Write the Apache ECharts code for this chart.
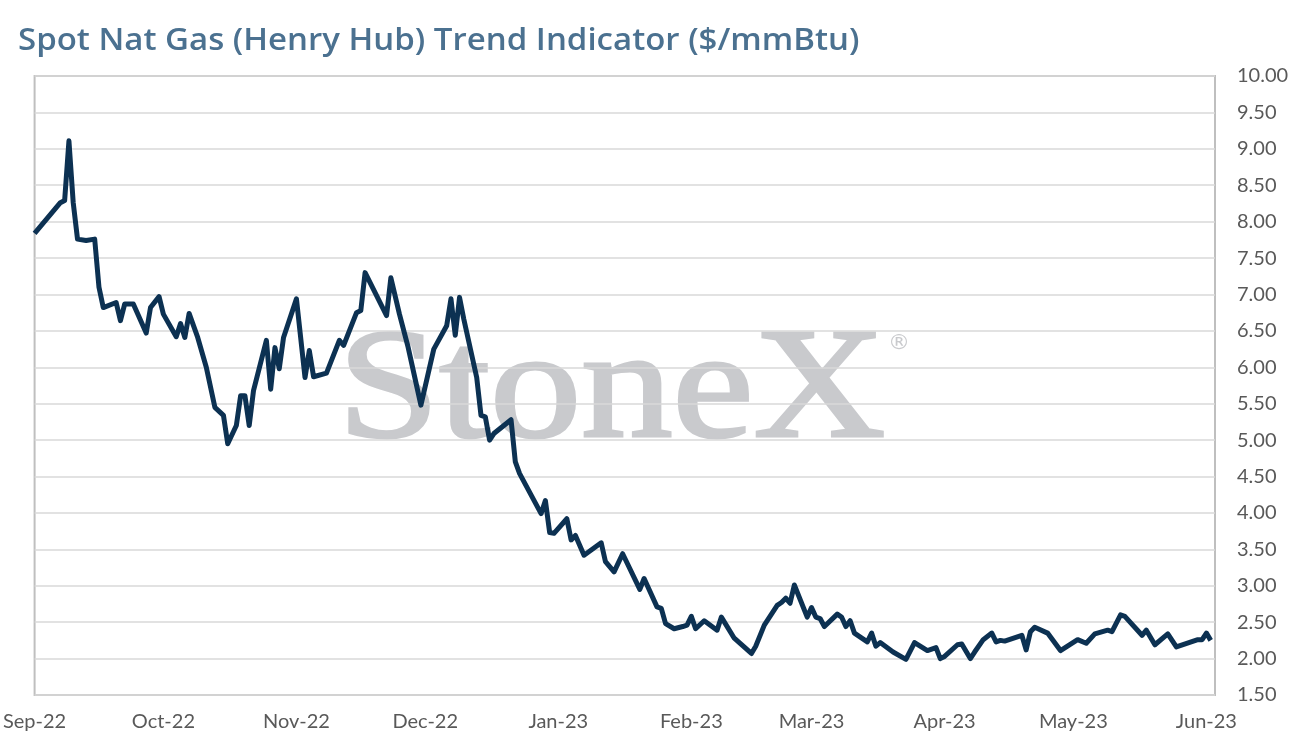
<!DOCTYPE html>
<html>
<head>
<meta charset="utf-8">
<script src="https://cdn.jsdelivr.net/npm/echarts@6/dist/echarts.min.js"></script>
<style>
html,body{margin:0;padding:0;background:#fff;}
#chart{width:1292px;height:754px;}
</style>
</head>
<body>
<div id="chart"></div>
<script>
const titleText = 'Spot Nat Gas (Henry Hub) Trend Indicator ($/mmBtu)';
const monthNames = ['Jan','Feb','Mar','Apr','May','Jun','Jul','Aug','Sep','Oct','Nov','Dec'];
const monthTicks = ['2022-09-01','2022-10-01','2022-11-01','2022-12-01','2023-01-01','2023-02-01','2023-03-01','2023-04-01','2023-05-01','2023-06-01'];
const dates = [
'2022-09-01','2022-09-07','2022-09-08','2022-09-09','2022-09-10','2022-09-11','2022-09-13','2022-09-15','2022-09-16','2022-09-17','2022-09-20','2022-09-21','2022-09-22','2022-09-24','2022-09-27','2022-09-28','2022-09-30',
'2022-10-01','2022-10-04','2022-10-05','2022-10-06','2022-10-07','2022-10-09','2022-10-11','2022-10-13','2022-10-15','2022-10-16','2022-10-18','2022-10-19','2022-10-20','2022-10-21','2022-10-22','2022-10-25','2022-10-26','2022-10-27','2022-10-28','2022-10-29',
'2022-11-01','2022-11-03','2022-11-04','2022-11-05','2022-11-08','2022-11-11','2022-11-12','2022-11-15','2022-11-16','2022-11-17','2022-11-22','2022-11-23','2022-11-25','2022-11-27','2022-11-30',
'2022-12-03','2022-12-06','2022-12-07','2022-12-08','2022-12-09','2022-12-10','2022-12-13','2022-12-14','2022-12-15','2022-12-16','2022-12-17','2022-12-21','2022-12-22','2022-12-23','2022-12-28','2022-12-29','2022-12-30','2022-12-31',
'2023-01-03','2023-01-04','2023-01-05','2023-01-07','2023-01-11','2023-01-12','2023-01-14','2023-01-16','2023-01-20','2023-01-21','2023-01-24','2023-01-25','2023-01-26','2023-01-28','2023-01-30','2023-01-31',
'2023-02-01','2023-02-02','2023-02-04','2023-02-07','2023-02-08','2023-02-11','2023-02-15','2023-02-16','2023-02-18','2023-02-21','2023-02-22','2023-02-23','2023-02-24','2023-02-25','2023-02-28',
'2023-03-01','2023-03-02','2023-03-03','2023-03-04','2023-03-07','2023-03-08','2023-03-09','2023-03-10','2023-03-11','2023-03-14','2023-03-15','2023-03-16','2023-03-17','2023-03-20','2023-03-23','2023-03-25','2023-03-28','2023-03-30','2023-03-31',
'2023-04-01','2023-04-04','2023-04-05','2023-04-07','2023-04-08','2023-04-10','2023-04-12','2023-04-13','2023-04-14','2023-04-15','2023-04-19','2023-04-20','2023-04-21','2023-04-22','2023-04-25','2023-04-28',
'2023-05-02','2023-05-04','2023-05-06','2023-05-09','2023-05-10','2023-05-12','2023-05-13','2023-05-17','2023-05-18','2023-05-20','2023-05-23','2023-05-25','2023-05-30','2023-05-31',
'2023-06-01','2023-06-02'
];
const prices = [
7.84,8.26,8.29,9.11,8.26,7.76,7.74,7.76,7.10,6.82,6.89,6.64,6.87,6.87,6.47,6.82,6.97,
6.73,6.42,6.60,6.41,6.74,6.41,6.00,5.45,5.34,4.95,5.20,5.61,5.61,5.20,5.68,6.37,5.70,6.27,5.98,6.41,
6.94,5.86,6.23,5.87,5.92,6.37,6.30,6.75,6.78,7.30,6.71,7.23,6.73,6.28,5.48,
6.25,6.57,6.94,6.44,6.96,6.66,5.86,5.34,5.32,5.00,5.09,5.28,4.70,4.54,3.99,4.17,3.73,3.72,
3.92,3.63,3.69,3.42,3.59,3.33,3.19,3.44,2.95,3.10,2.71,2.69,2.48,2.41,2.44,2.46,
2.58,2.41,2.52,2.39,2.57,2.28,2.07,2.17,2.46,2.73,2.77,2.83,2.76,3.01,2.57,
2.70,2.57,2.55,2.44,2.61,2.57,2.44,2.52,2.35,2.23,2.35,2.17,2.22,2.09,1.99,2.22,2.11,2.15,2.00,
2.03,2.19,2.20,2.00,2.09,2.26,2.35,2.23,2.25,2.24,2.32,2.12,2.37,2.43,2.35,2.11,
2.26,2.21,2.34,2.39,2.37,2.60,2.58,2.32,2.39,2.19,2.34,2.16,2.26,2.26,
2.35,2.25
];
const yMin = 1.5, yMax = 10, yStep = 0.5;

function parseLocal(s){ const p = s.split('-').map(Number); return new Date(p[0], p[1]-1, p[2]).getTime(); }
const seriesData = dates.map((d,i)=>[parseLocal(d), prices[i]]);
const tickValues = monthTicks.map(parseLocal);

const chart = echarts.init(document.getElementById('chart'));
const labelFont = 'Lato';
chart.setOption({
  animation:false,
  backgroundColor:'#ffffff',
  graphic:[
    {type:'text', silent:true, left:18, top:26, scaleX:1.1,
     style:{text:titleText, fontFamily:'Open Sans', fontSize:30, fontWeight:600, fill:'#4b7190'}},
    {type:'text', z:-10, silent:true, left:336, top:316, scaleX:1.17,
     style:{text:'StoneX', fontFamily:'Liberation Serif', fontSize:156, fill:'#c9cacd', stroke:'#c9cacd', lineWidth:3}},
    {type:'text', z:-10, silent:true, left:888, top:332,
     style:{text:'®', fontFamily:'DejaVu Sans', fontSize:22, fill:'#c9cacd'}}
  ],
  grid:{left:33, right:77, top:76, bottom:59, show:true, borderColor:'#bfbfbf', borderWidth:2, containLabel:false},
  xAxis:{
    type:'value',
    min:parseLocal('2022-09-01'), max:parseLocal('2023-06-03'),
    axisLine:{show:false}, axisTick:{show:false}, splitLine:{show:false},
    axisLabel:{
      customValues:tickValues,
      margin:17, fontFamily:labelFont, fontSize:20, color:'#595959',
      formatter:function(v){ const d=new Date(v); return monthNames[d.getMonth()]+'-'+String(d.getFullYear()).slice(2); }
    }
  },
  yAxis:{
    type:'value', position:'right', min:yMin, max:yMax, interval:yStep,
    axisLine:{show:false}, axisTick:{show:false},
    splitLine:{lineStyle:{color:'#d9d9d9', width:1.5}},
    axisLabel:{margin:22, fontFamily:labelFont, fontSize:20, color:'#595959', formatter:v=>v.toFixed(2)}
  },
  series:[{
    type:'line', data:seriesData, symbol:'none', smooth:false,
    lineStyle:{color:'#0c3152', width:5, join:'round'}, z:5
  }]
});
</script>
</body>
</html>
